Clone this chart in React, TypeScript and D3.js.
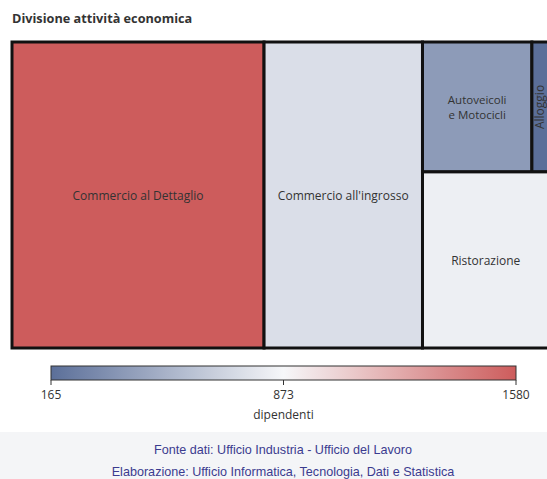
import React from "react";
import * as d3 from "d3";

const title = "Divisione attività economica";
const categories = ["Commercio al Dettaglio", "Commercio all'ingrosso", "Autoveicoli e Motocicli", "Alloggio", "Ristorazione"];
const sizes = [1042, 655, 192, 30, 301];
const dipendenti = [1580, 745, 392, 165, 830];
const legendTicks = [165, 873, 1580];
const legendTitle = "dipendenti";
const footer = ["Fonte dati: Ufficio Industria - Ufficio del Lavoro", "Elaborazione: Ufficio Informatica, Tecnologia, Dati e Statistica"];

const W = 547, H = 479;
const TX = 12, TY = 42;

export default function App() {
  const leaf = (i: number) => ({ name: categories[i], size: sizes[i], value: dipendenti[i], idx: i });
  const data = {
    name: "root",
    children: [
      leaf(0),
      leaf(1),
      { name: "right", children: [{ name: "top", children: [leaf(2), leaf(3)] }, leaf(4)] },
    ],
  };
  const root = d3.hierarchy<any>(data).sum((d: any) => d.size || 0);
  d3.treemap<any>().tile(d3.treemapSliceDice).size([537, 306]).padding(0)(root);
  const leaves = root.leaves() as any[];

  const minV = d3.min(dipendenti)!, maxV = d3.max(dipendenti)!;
  const mid = (minV + maxV) / 2;
  const color = d3.scaleLinear<string>().domain([minV, mid, maxV]).range(["#5b6f99", "#f6f7f9", "#cd5c5c"]);
  const lx = d3.scaleLinear().domain([minV, maxV]).range([51, 516]);
  const stops = d3.range(0, 1.0001, 0.05);

  return (
    <svg width={W} height={H} style={{ position: "absolute", left: 0, top: 0, fontFamily: "'Open Sans', sans-serif" }}>
      <defs>
        <linearGradient id="lg" x1="0" x2="1" y1="0" y2="0">
          {stops.map((t) => (
            <stop key={t} offset={t} stopColor={color(minV + t * (maxV - minV))} />
          ))}
        </linearGradient>
      </defs>
      <rect width={W} height={H} fill="#fff" />
      <text x={12} y={23} fontSize={12.7} fontWeight="bold" fill="#333">{title}</text>
      <g transform={`translate(${TX},${TY})`}>
        {leaves.map((n) => (
          <rect key={n.data.name} x={n.x0} y={n.y0} width={n.x1 - n.x0} height={n.y1 - n.y0}
            fill={color(n.data.value)} stroke="#111" strokeWidth={3} />
        ))}
        {leaves.map((n) => {
          const cx = (n.x0 + n.x1) / 2, cy = (n.y0 + n.y1) / 2;
          const w = n.x1 - n.x0;
          if (w < 40) {
            return (
              <text key={n.data.name} transform={`translate(${cx + 4},${cy}) rotate(-90)`} textAnchor="middle"
                fontSize={12} fill="#333">{n.data.name}</text>
            );
          }
          if (n.data.idx === 2) {
            return (
              <g key={n.data.name}>
                <text x={cx} y={cy - 3} textAnchor="middle" fontSize={11.5} fill="#333">Autoveicoli</text>
                <text x={cx} y={cy + 12} textAnchor="middle" fontSize={11.5} fill="#333">e Motocicli</text>
              </g>
            );
          }
          return (
            <text key={n.data.name} x={cx} y={cy + 5} textAnchor="middle" fontSize={12} fill="#333">{n.data.name}</text>
          );
        })}
      </g>
      <rect x={lx(minV)} y={366} width={lx(maxV) - lx(minV)} height={14} fill="url(#lg)" stroke="#333" strokeWidth={1} />
      {legendTicks.map((t, i) => {
        const x = i === 1 ? lx(mid) : lx(t);
        return (
          <g key={t}>
            <line x1={x} x2={x} y1={380} y2={385} stroke="#333" />
            <text x={x} y={399} textAnchor="middle" fontSize={12} fill="#333">{t}</text>
          </g>
        );
      })}
      <text x={lx(mid)} y={419} textAnchor="middle" fontSize={12} fill="#333">{legendTitle}</text>
      <rect x={0} y={432} width={W} height={H - 432} fill="#f4f5f7" />
      {footer.map((f, i) => (
        <text key={f} x={283} y={454 + i * 22} textAnchor="middle" fontSize={12.6} fill="#3b3b8f"
          fontFamily="'Liberation Sans', Arial, sans-serif">{f}</text>
      ))}
    </svg>
  );
}
